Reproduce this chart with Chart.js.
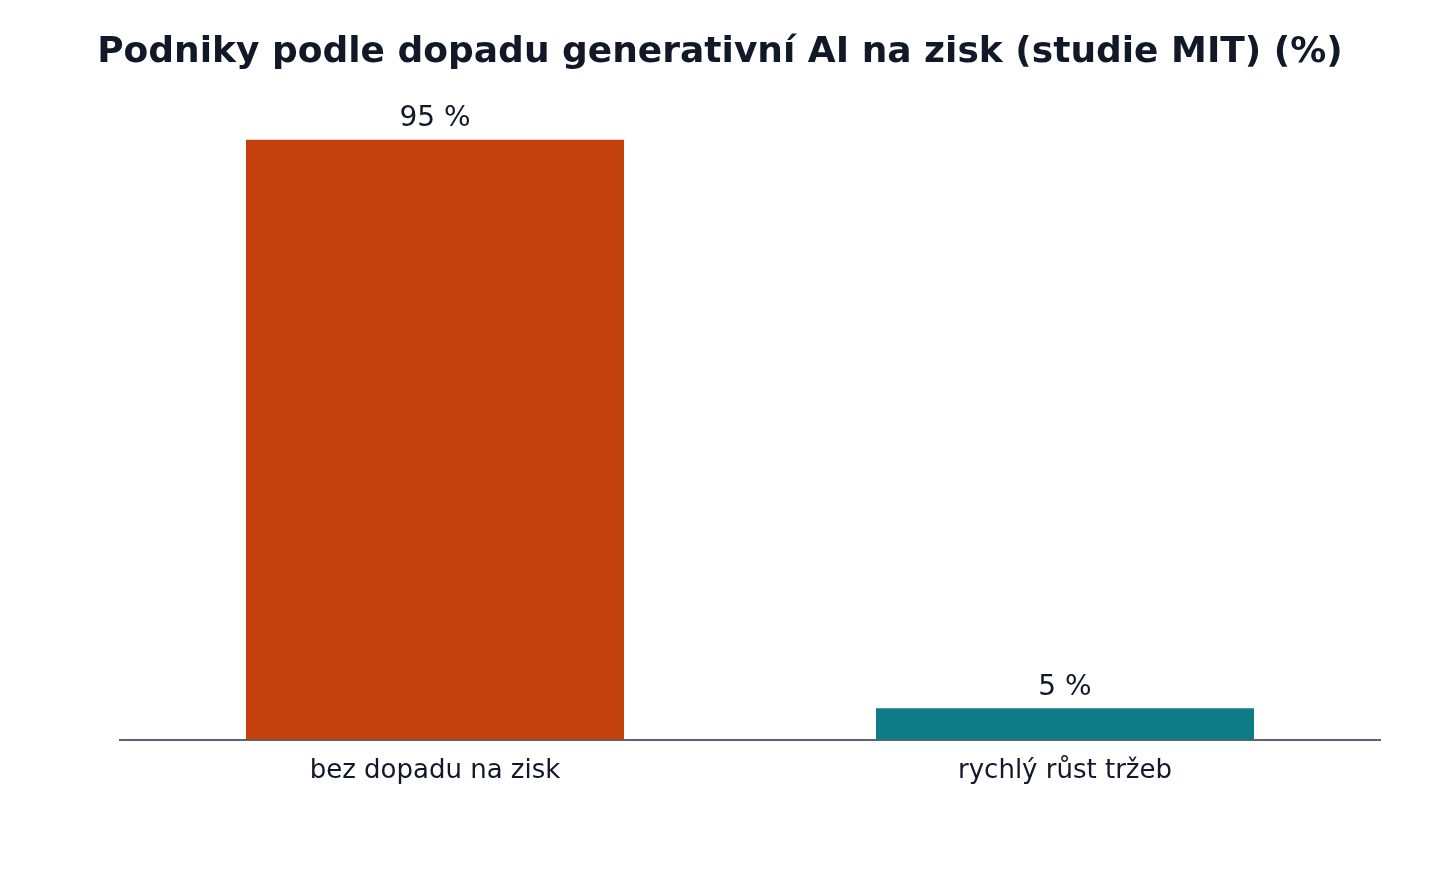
<!DOCTYPE html>
<html>
<head>
<meta charset="utf-8">
<script src="https://cdn.jsdelivr.net/npm/chart.js@4.4.1/dist/chart.umd.min.js"></script>
<style>
    html, body { margin: 0; padding: 0; background: #ffffff; font-family: "DejaVu Sans", sans-serif; }
    #chart { display: block; }
    .preload { position: absolute; left: -9999px; font-family: "DejaVu Sans"; }
</style>
</head>
<body>
<span class="preload">Ab <b>Ab</b></span>
<canvas id="chart" width="1440" height="880"></canvas>
<script>
const categories = ['bez dopadu na zisk', 'rychlý růst tržeb'];
const shares = [95, 5];
const barColors = ['#C2410C', '#0E7C86'];

const textColor = '#111827';
const fontFamily = "'DejaVu Sans', sans-serif";

// draws "95 %" etc. above each bar
const valueLabels = {
    id: 'valueLabels',
    afterDatasetsDraw(chart) {
        const ctx = chart.ctx;
        const meta = chart.getDatasetMeta(0);
        ctx.save();
        ctx.font = '28px ' + fontFamily;
        ctx.fillStyle = textColor;
        ctx.textAlign = 'center';
        ctx.textBaseline = 'bottom';
        meta.data.forEach((bar, i) => {
            ctx.fillText(shares[i] + ' %', bar.x, bar.y - 7);
        });
        ctx.restore();
    }
};

function drawChart() {
    new Chart(document.getElementById('chart'), {
        type: 'bar',
        data: {
            labels: categories,
            datasets: [{
                data: shares,
                backgroundColor: barColors,
                borderWidth: 0,
                categoryPercentage: 1.0,
                barPercentage: 0.6
            }]
        },
        options: {
            responsive: false,
            animation: false,
            layout: {
                padding: { left: 60, right: 60, top: 0, bottom: 77 }
            },
            plugins: {
                legend: { display: false },
                tooltip: { enabled: false },
                title: {
                    display: true,
                    text: 'Podniky podle dopadu generativní AI na zisk (studie MIT) (%)',
                    color: textColor,
                    font: { family: fontFamily, size: 36, weight: 'bold' },
                    padding: { top: 31, bottom: 34 }
                }
            },
            scales: {
                x: {
                    grid: { display: false, drawTicks: false },
                    border: { display: true, color: '#5b6378', width: 2 },
                    ticks: {
                        color: textColor,
                        padding: 16,
                        font: { family: fontFamily, size: 26 }
                    }
                },
                y: {
                    display: true,
                    min: 0,
                    max: 100,
                    grid: { display: false, drawTicks: false },
                    border: { display: false },
                    ticks: { display: false },
                    afterFit(scale) { scale.width = 60; }
                }
            }
        },
        plugins: [valueLabels]
    });
}

Promise.all([
    document.fonts.load('36px "DejaVu Sans"'),
    document.fonts.load('bold 36px "DejaVu Sans"')
]).then(drawChart, drawChart);
</script>
</body>
</html>
